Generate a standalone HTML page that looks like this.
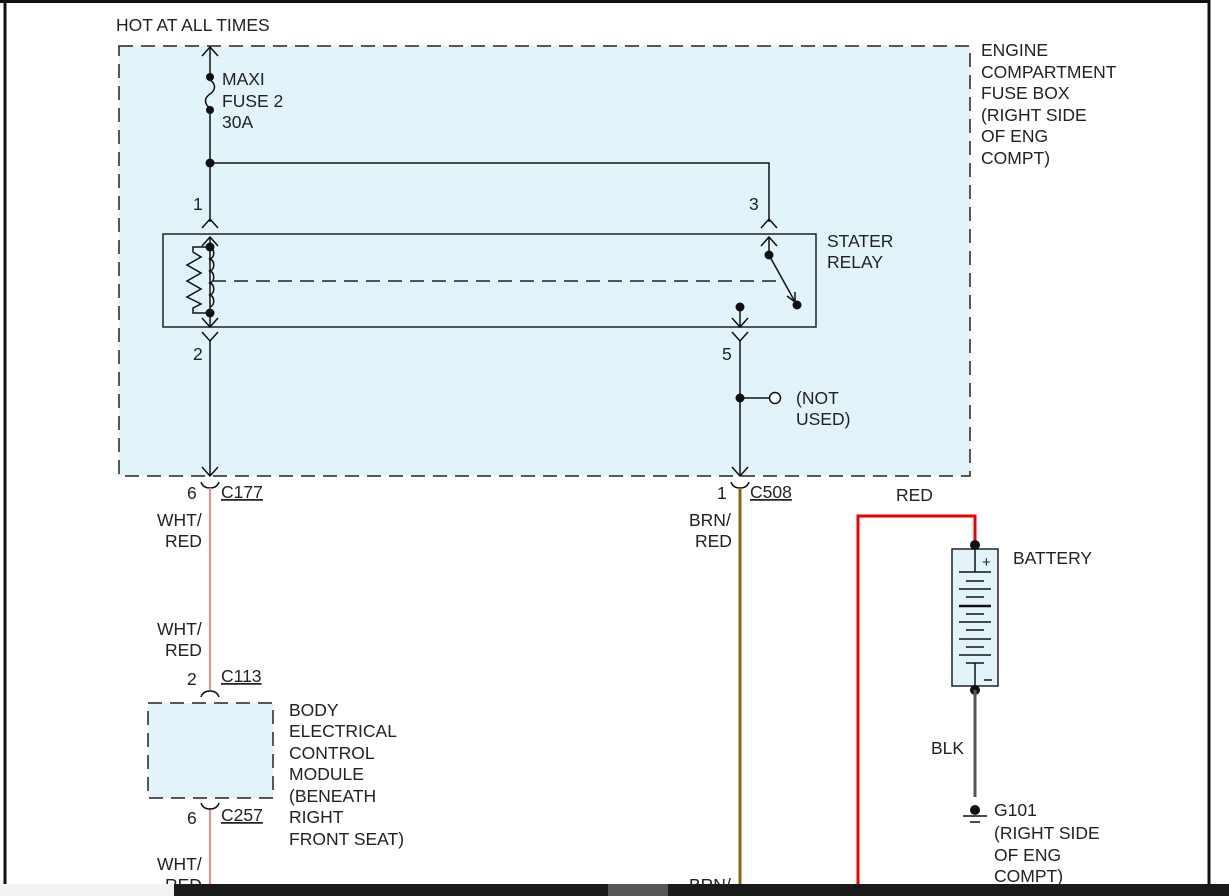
<!DOCTYPE html>
<html><head><meta charset="utf-8"><style>
html,body{margin:0;padding:0;background:#fff;}
svg{display:block;}
text{font-family:"Liberation Sans",Arial,sans-serif;font-size:17.5px;fill:#222;}
</style></head><body>
<svg width="1229" height="896" viewBox="0 0 1229 896" xmlns="http://www.w3.org/2000/svg">
<rect x="0" y="0" width="1229" height="896" fill="#fff"/>
<line x1="0" y1="1.5" x2="1210" y2="1.5" stroke="#111" stroke-width="3"/>
<line x1="1209" y1="0" x2="1209" y2="896" stroke="#111" stroke-width="3"/>
<line x1="5" y1="0" x2="5" y2="896" stroke="#111" stroke-width="3"/>

<rect x="119" y="46" width="851" height="430" fill="#e2f4fa" stroke="#222" stroke-width="1.5" stroke-dasharray="14,8"/>
<text x="116" y="31">HOT AT ALL TIMES</text>
<path d="M202,56 L210,47 L218,56" fill="none" stroke="#111" stroke-width="1.5"/>
<line x1="210" y1="47" x2="210" y2="80" stroke="#111" stroke-width="1.5"/>
<path d="M210,80 C216,84 216,90 210,94 C204,98 204,104 210,108" fill="none" stroke="#111" stroke-width="1.5"/>
<circle cx="210" cy="77" r="4" fill="#111"/>
<circle cx="210" cy="110" r="4" fill="#111"/>
<line x1="210" y1="110" x2="210" y2="222" stroke="#111" stroke-width="1.5"/>
<circle cx="210" cy="163" r="4.5" fill="#111"/>
<polyline points="210,163 769,163 769,222" fill="none" stroke="#111" stroke-width="1.5"/>
<text x="222" y="85">MAXI</text><text x="222" y="107">FUSE 2</text><text x="222" y="128">30A</text>
<text x="193" y="210">1</text><text x="749" y="210">3</text>
<path d="M202,228 L210,219 L218,228" fill="none" stroke="#111" stroke-width="1.5"/>
<path d="M761,228 L769,219 L777,228" fill="none" stroke="#111" stroke-width="1.5"/>
<rect x="163" y="234" width="653" height="93" fill="none" stroke="#222" stroke-width="1.5"/>
<text x="827" y="247">STATER</text><text x="827" y="268">RELAY</text>
<path d="M202,246 L210,237 L218,246" fill="none" stroke="#111" stroke-width="1.5"/>
<path d="M761,246 L769,237 L777,246" fill="none" stroke="#111" stroke-width="1.5"/>
<line x1="210" y1="237" x2="210" y2="327" stroke="#111" stroke-width="1.5"/>
<line x1="769" y1="237" x2="769" y2="255" stroke="#111" stroke-width="1.5"/>
<path d="M210,247 c5,2 5,10 0,12 c5,2 5,10 0,12 c5,2 5,10 0,12 c5,2 5,10 0,12 c5,2 5,10 0,12" fill="none" stroke="#111" stroke-width="1.5"/>
<polyline points="210,247 193,247 193,252 201,257 187,265 201,273 187,281 201,289 187,297 201,304 193,308 193,313 210,313" fill="none" stroke="#111" stroke-width="1.5"/>
<circle cx="210" cy="247" r="4.5" fill="#111"/>
<circle cx="210" cy="313" r="4.5" fill="#111"/>
<path d="M202,318 L210,327 L218,318" fill="none" stroke="#111" stroke-width="1.5"/>
<line x1="212" y1="281" x2="783" y2="281" stroke="#222" stroke-width="1.5" stroke-dasharray="14,8"/>
<circle cx="769" cy="255" r="4.5" fill="#111"/>
<line x1="769" y1="255" x2="794" y2="300" stroke="#111" stroke-width="1.5"/>
<path d="M787,296 L795,302 L795,292" fill="none" stroke="#111" stroke-width="1.5"/>
<circle cx="797" cy="305" r="4.5" fill="#111"/>
<circle cx="740" cy="307" r="4.5" fill="#111"/>
<line x1="740" y1="307" x2="740" y2="327" stroke="#111" stroke-width="1.5"/>
<path d="M732,318 L740,327 L748,318" fill="none" stroke="#111" stroke-width="1.5"/>
<path d="M202,332 L210,341 L218,332" fill="none" stroke="#111" stroke-width="1.5"/>
<path d="M732,332 L740,341 L748,332" fill="none" stroke="#111" stroke-width="1.5"/>
<text x="193" y="360">2</text><text x="722" y="360">5</text>
<line x1="210" y1="341" x2="210" y2="476" stroke="#111" stroke-width="1.5"/>
<line x1="740" y1="341" x2="740" y2="476" stroke="#111" stroke-width="1.5"/>
<path d="M202,467 L210,476 L218,467" fill="none" stroke="#111" stroke-width="1.5"/>
<path d="M732,467 L740,476 L748,467" fill="none" stroke="#111" stroke-width="1.5"/>
<circle cx="740" cy="398" r="4.5" fill="#111"/>
<line x1="740" y1="398" x2="770" y2="398" stroke="#111" stroke-width="1.5"/>
<circle cx="775" cy="398" r="5.5" fill="#fff" stroke="#111" stroke-width="1.5"/>
<text x="796" y="404">(NOT</text><text x="796" y="425">USED)</text>
<text x="981" y="56">ENGINE</text><text x="981" y="78">COMPARTMENT</text><text x="981" y="99">FUSE BOX</text>
<text x="981" y="121">(RIGHT SIDE</text><text x="981" y="142">OF ENG</text><text x="981" y="164">COMPT)</text>

<path d="M201,482 Q203,488 210,488 Q217,488 219,482" fill="none" stroke="#111" stroke-width="1.5"/>
<path d="M731,482 Q733,488 740,488 Q747,488 749,482" fill="none" stroke="#111" stroke-width="1.5"/>
<text x="187" y="499">6</text><text x="221" y="498" text-decoration="underline">C177</text>
<text x="717" y="499">1</text><text x="750" y="498" text-decoration="underline">C508</text>
<line x1="210" y1="488" x2="210" y2="690" stroke="#f08a8a" stroke-width="2"/>
<line x1="210" y1="808" x2="210" y2="896" stroke="#f08a8a" stroke-width="2"/>
<line x1="740" y1="488" x2="740" y2="896" stroke="#8a6410" stroke-width="3"/>
<text x="157" y="526">WHT/</text><text x="165" y="547">RED</text>
<text x="689" y="526">BRN/</text><text x="695" y="547">RED</text>
<text x="157" y="635">WHT/</text><text x="165" y="656">RED</text>
<text x="187" y="685">2</text><text x="221" y="682" text-decoration="underline">C113</text>
<path d="M201,697 Q203,691 210,691 Q217,691 219,697" fill="none" stroke="#111" stroke-width="1.5"/>
<rect x="148" y="703" width="125" height="95" fill="#e2f4fa" stroke="#222" stroke-width="1.5" stroke-dasharray="14,8"/>
<path d="M201,803 Q203,809 210,809 Q217,809 219,803" fill="none" stroke="#111" stroke-width="1.5"/>
<text x="187" y="824">6</text><text x="221" y="821" text-decoration="underline">C257</text>
<text x="289" y="716">BODY</text><text x="289" y="737">ELECTRICAL</text><text x="289" y="759">CONTROL</text>
<text x="289" y="780">MODULE</text><text x="289" y="802">(BENEATH</text><text x="289" y="823">RIGHT</text><text x="289" y="845">FRONT SEAT)</text>
<text x="157" y="870">WHT/</text><text x="165" y="891">RED</text>
<text x="689" y="891">BRN/</text>

<polyline points="858,896 858,516 975,516 975,545" fill="none" stroke="#ee0000" stroke-width="3"/>
<text x="896" y="501">RED</text>
<rect x="952" y="549" width="46" height="137" fill="#e2f4fa" stroke="#222" stroke-width="1.5"/>
<line x1="975" y1="545" x2="975" y2="572" stroke="#111" stroke-width="1.5"/>
<text x="982" y="567" style="font-size:15px">+</text>
<g stroke="#111" stroke-width="1.5">
<line x1="959" y1="572" x2="991" y2="572"/><line x1="966" y1="581" x2="984" y2="581"/>
<line x1="959" y1="589" x2="991" y2="589"/><line x1="966" y1="597" x2="984" y2="597"/>
<line x1="959" y1="606" x2="991" y2="606" stroke-width="2.5"/><line x1="966" y1="614" x2="984" y2="614"/>
<line x1="959" y1="622" x2="991" y2="622"/><line x1="966" y1="630" x2="984" y2="630"/>
<line x1="959" y1="639" x2="991" y2="639"/><line x1="966" y1="647" x2="984" y2="647"/>
<line x1="959" y1="655" x2="991" y2="655"/><line x1="966" y1="663" x2="984" y2="663"/>
<line x1="975" y1="663" x2="975" y2="690"/><line x1="984" y1="680" x2="992" y2="680"/>
</g>
<circle cx="975" cy="545" r="5" fill="#111"/>
<circle cx="975" cy="690" r="5" fill="#111"/>
<text x="1013" y="564">BATTERY</text>
<line x1="975" y1="690" x2="975" y2="797" stroke="#555" stroke-width="3"/>
<text x="931" y="754">BLK</text>
<circle cx="975" cy="810" r="5" fill="#111"/>
<line x1="963" y1="816" x2="987" y2="816" stroke="#111" stroke-width="1.5"/>
<line x1="970" y1="822" x2="980" y2="822" stroke="#111" stroke-width="1.5"/>
<text x="994" y="816">G101</text><text x="994" y="839">(RIGHT SIDE</text><text x="994" y="861">OF ENG</text><text x="994" y="882">COMPT)</text>

<rect x="0" y="884" width="174" height="12" fill="#f2f2f2"/>
<rect x="174" y="884" width="1055" height="12" fill="#1a1a1a"/>
<rect x="608" y="884" width="60" height="12" fill="#555"/>
</svg>
</body></html>
